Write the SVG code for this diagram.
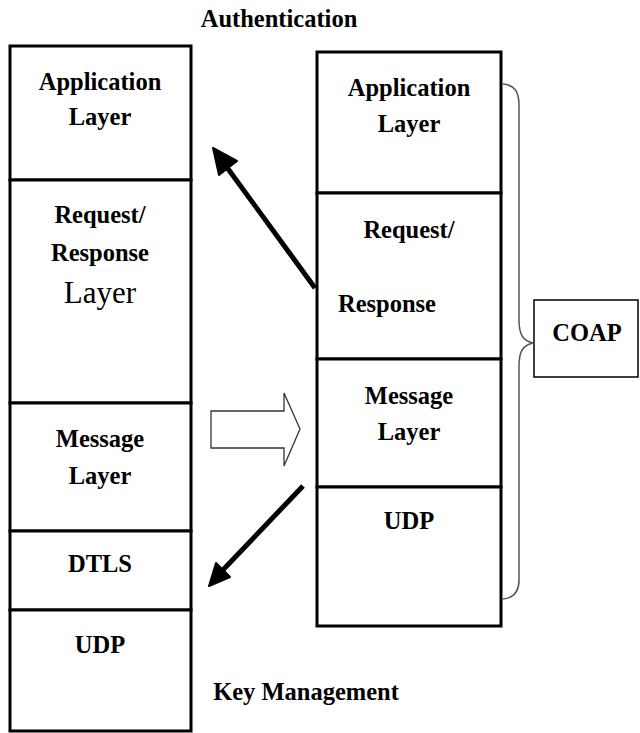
<svg xmlns="http://www.w3.org/2000/svg" width="640" height="733" viewBox="0 0 640 733">
<style>
.box{fill:#fff;stroke:#000;stroke-width:3}
text{font-family:'Liberation Serif',serif;font-weight:bold;font-size:24.5px;fill:#000;text-anchor:middle}
text.r{font-weight:normal;font-size:31px}
.thin{fill:#fff;stroke:#000;stroke-width:1.5}
</style>
<rect width="640" height="733" fill="#fff"/>
<text x="279" y="27">Authentication</text>
<text x="306" y="700">Key Management</text>
<g id="left-stack">
<g id="l-app"><rect class="box" x="10" y="46" width="181" height="134"/><text x="100" y="90">Application</text><text x="100" y="125">Layer</text></g>
<g id="l-req"><rect class="box" x="10" y="180" width="181" height="223"/><text x="100" y="223">Request/</text><text x="100" y="261">Response</text><text class="r" x="100" y="303">Layer</text></g>
<g id="l-msg"><rect class="box" x="10" y="403" width="181" height="128"/><text x="100" y="447">Message</text><text x="100" y="484">Layer</text></g>
<g id="l-dtls"><rect class="box" x="10" y="531" width="181" height="79"/><text x="100" y="572">DTLS</text></g>
<g id="l-udp"><rect class="box" x="10" y="610" width="181" height="121"/><text x="100" y="653">UDP</text></g>
</g>
<g id="right-stack">
<g id="r-app"><rect class="box" x="317" y="52" width="184" height="141"/><text x="409" y="96">Application</text><text x="409" y="132">Layer</text></g>
<g id="r-req"><rect class="box" x="317" y="193" width="184" height="166"/><text x="409" y="238">Request/</text><text x="387" y="312">Response</text></g>
<g id="r-msg"><rect class="box" x="317" y="359" width="184" height="128"/><text x="409" y="404">Message</text><text x="409" y="440">Layer</text></g>
<g id="r-udp"><rect class="box" x="317" y="487" width="184" height="139"/><text x="409" y="529">UDP</text></g>
</g>
<g id="coap"><rect class="thin" x="534" y="300" width="104" height="77"/><text x="587" y="341">COAP</text></g>
<g id="connectors">
<path d="M503,84 C515,85 519,92 519,105 L519,320 C519,336 524,341 533,343 C524,345 519,350 519,366 L519,580 C519,592 514,598 503,599" fill="none" stroke="#555" stroke-width="1.5"/>
<polygon points="211,411 284,411 284,393 300,429 284,466 284,448 211,448" fill="#fff" stroke="#333" stroke-width="1.3"/>
<line x1="315" y1="288" x2="226" y2="166" stroke="#000" stroke-width="5"/>
<polygon points="213,148 237,161 219,175" fill="#000" stroke="#000" stroke-width="2" stroke-linejoin="round"/>
<line x1="303" y1="486" x2="221" y2="572" stroke="#000" stroke-width="5"/>
<polygon points="209,586 216,563 230,577" fill="#000" stroke="#000" stroke-width="2" stroke-linejoin="round"/>
</g>
</svg>
